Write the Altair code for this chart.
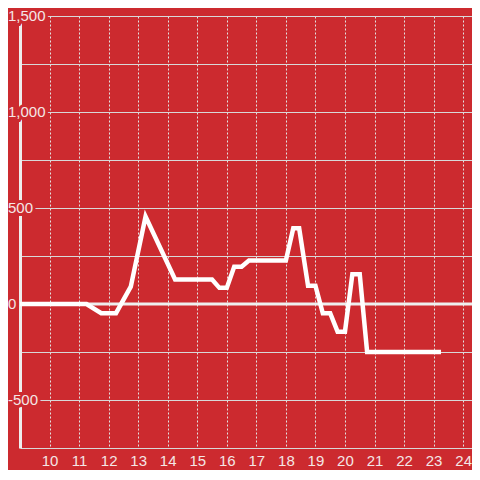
import altair as alt
import pandas as pd

# data
xs = [9.0, 11.25, 11.75, 12.25, 12.75, 13.25, 14.25, 15.5, 15.75, 16.0, 16.25, 16.5,
      16.75, 18.0, 18.25, 18.45, 18.75, 19.0, 19.25, 19.5, 19.75, 20.0, 20.25, 20.5,
      20.75, 23.25]
ys = [0, 0, -48, -48, 90, 455, 128, 128, 84, 84, 194, 194,
      226, 226, 394, 394, 95, 95, -48, -48, -144, -144, 155, 155,
      -250, -250]

x_ticks = list(range(10, 25))
y_grid = [-750, -500, -250, 0, 250, 500, 750, 1000, 1250, 1500]
y_label_values = [-500, 0, 500, 1000, 1500]
y_label_texts = ["-500", "0", "500", "1,000", "1,500"]

BG = "#cc2a2f"
FONT = "Liberation Sans"
LABEL = "#f4e6e6"

line_df = pd.DataFrame({"x": xs, "y": ys})
zero_df = pd.DataFrame({"y": [0]})
lab_df = pd.DataFrame({"y": y_label_values, "t": y_label_texts})

xscale = alt.Scale(domain=[9, 24.3], nice=False, zero=False)
yscale = alt.Scale(domain=[-750, 1500], nice=False, zero=False)

line = alt.Chart(line_df).mark_line(color="#ffffff", strokeWidth=4.5).encode(
    x=alt.X("x:Q", scale=xscale,
            axis=alt.Axis(values=x_ticks, grid=True, gridDash=[2, 2], gridColor="#e2e2e2",
                          gridWidth=1, domain=False, ticks=False, tickSize=0, labelPadding=5,
                          labelFontSize=15, labelColor=LABEL, labelFont=FONT, format="d",
                          title=None)),
    y=alt.Y("y:Q", scale=yscale,
            axis=alt.Axis(values=y_grid, grid=True, gridColor="#d8d8d8", gridWidth=1,
                          domain=True, domainColor="#eeeeee", domainWidth=3, ticks=False,
                          tickSize=0, labels=False, title=None)),
)

zero = alt.Chart(zero_df).mark_rule(color="#eeeeee", strokeWidth=3).encode(
    y=alt.Y("y:Q", scale=yscale)
)

mask = alt.Chart(lab_df).mark_text(
    align="left", baseline="middle", fontSize=15, font=FONT,
    fill=BG, stroke=BG, strokeWidth=6
).encode(x=alt.value(-12), y=alt.Y("y:Q", scale=yscale), text="t:N")

labels = alt.Chart(lab_df).mark_text(
    align="left", baseline="middle", fontSize=15, font=FONT, color=LABEL
).encode(x=alt.value(-12), y=alt.Y("y:Q", scale=yscale), text="t:N")

chart = alt.layer(zero, line, mask, labels).properties(
    width=452, height=432,
    background=BG,
    padding={"left": 12, "top": 8, "right": 0, "bottom": 22},
    autosize=alt.AutoSizeParams(type="none"),
).configure_view(stroke=None)

chart.save("out.html", embed_options={"renderer": "svg", "actions": False})
